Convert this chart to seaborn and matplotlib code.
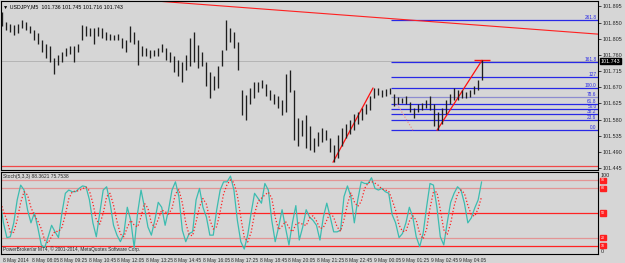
import numpy as np
import pandas as pd
import matplotlib
matplotlib.use("Agg")
import matplotlib.pyplot as plt
import matplotlib.transforms as mtrans
import seaborn as sns

# USDJPY M5 - price bars (one bar every ~10 min)
high = [101.880, 101.852, 101.846, 101.843, 101.846, 101.857, 101.852, 101.841, 101.829, 101.821,
        101.802, 101.790, 101.785, 101.751, 101.760, 101.768, 101.779, 101.785, 101.785, 101.790,
        101.843, 101.841, 101.835, 101.835, 101.838, 101.835, 101.824, 101.818, 101.815, 101.818,
        101.807, 101.802, 101.841, 101.824, 101.802, 101.785, 101.779, 101.774, 101.774, 101.779,
        101.790, 101.779, 101.768, 101.757, 101.746, 101.740, 101.760, 101.807, 101.824, 101.788,
        101.768, 101.740, 101.712, 101.701, 101.729, 101.774, 101.857, 101.835, 101.824, 101.796,
        101.662, 101.648, 101.668, 101.684, 101.684, 101.690, 101.679, 101.662, 101.651, 101.645,
        101.634, 101.707, 101.718, 101.662, 101.584, 101.578, 101.592, 101.562, 101.528, 101.545,
        101.556, 101.550, 101.528, 101.509, 101.536, 101.556, 101.567, 101.578, 101.595, 101.601,
        101.612, 101.623, 101.645, 101.668, 101.668, 101.662, 101.665, 101.668, 101.651, 101.642,
        101.640, 101.645, 101.628, 101.612, 101.623, 101.626, 101.634, 101.645, 101.623, 101.601,
        101.612, 101.634, 101.651, 101.668, 101.662, 101.662, 101.656, 101.662, 101.673, 101.690,
        101.745]
low = [101.841, 101.829, 101.824, 101.815, 101.821, 101.835, 101.829, 101.821, 101.802, 101.790,
       101.768, 101.751, 101.740, 101.707, 101.732, 101.740, 101.757, 101.763, 101.740, 101.768,
       101.802, 101.813, 101.813, 101.790, 101.813, 101.807, 101.802, 101.802, 101.802, 101.802,
       101.779, 101.768, 101.796, 101.790, 101.732, 101.757, 101.757, 101.751, 101.757, 101.757,
       101.768, 101.746, 101.740, 101.712, 101.701, 101.684, 101.718, 101.729, 101.740, 101.723,
       101.729, 101.673, 101.640, 101.662, 101.668, 101.729, 101.774, 101.796, 101.779, 101.718,
       101.592, 101.578, 101.623, 101.640, 101.656, 101.668, 101.645, 101.634, 101.623, 101.612,
       101.592, 101.601, 101.656, 101.523, 101.506, 101.534, 101.500, 101.495, 101.489, 101.506,
       101.517, 101.523, 101.489, 101.461, 101.472, 101.506, 101.528, 101.539, 101.550, 101.567,
       101.578, 101.595, 101.606, 101.640, 101.648, 101.642, 101.645, 101.651, 101.617, 101.623,
       101.626, 101.623, 101.601, 101.584, 101.601, 101.606, 101.612, 101.606, 101.562, 101.550,
       101.567, 101.595, 101.623, 101.634, 101.634, 101.640, 101.640, 101.642, 101.651, 101.662,
       101.690]

# Stochastic %K (5,3,3)
stoch_k = [66, 38, 20, 21, 38, 66, 84, 78, 54, 38, 50, 32, 11, 8, 21, 35, 27, 20, 50, 74,
           78, 76, 76, 80, 83, 82, 66, 38, 21, 50, 78, 82, 62, 35, 23, 15, 25, 57, 41, 8,
           50, 78, 57, 33, 23, 41, 63, 57, 35, 54, 78, 88, 70, 29, 15, 25, 27, 66, 80, 57,
           45, 23, 23, 54, 78, 88, 88, 95, 78, 41, 15, 6, 23, 50, 74, 68, 62, 86, 78, 41,
           15, 33, 54, 32, 11, 38, 59, 17, 33, 54, 45, 41, 35, 17, 45, 62, 45, 27, 27, 29,
           70, 83, 70, 38, 66, 88, 86, 86, 93, 80, 78, 80, 76, 74, 48, 38, 20, 25, 38, 57,
           45, 21, 9, 25, 57, 86, 84, 57, 21, 11, 38, 63, 74, 82, 78, 62, 38, 44, 56, 66, 88]
stoch_levels = [90, 80, 50, 20, 10]

time_labels = ["8 May 2014", "8 May 08:05", "8 May 09:25", "8 May 10:45", "8 May 12:05",
               "8 May 13:25", "8 May 14:45", "8 May 16:05", "8 May 17:25", "8 May 18:45",
               "8 May 20:05", "8 May 21:25", "8 May 22:45", "9 May 00:05", "9 May 01:25",
               "9 May 02:45", "9 May 04:05"]
price_ticks = [101.895, 101.850, 101.805, 101.760, 101.715, 101.670,
               101.625, 101.580, 101.535, 101.490, 101.445]

# fibonacci retracement anchors and levels
fib_low, fib_high = 101.550, 101.667
fib_ratios = [2.618, 1.618, 1.27, 1.0, 0.786, 0.618, 0.5, 0.382, 0.236, 0.0]
fib_names = ["261.8", "161.8", "127", "100.0", "78.6", "61.8", "50.0", "38.2", "23.6", "0.0"]

# drawn objects (bar index, price)
trend_long_x, trend_long_y = [40, 149], [101.909, 101.818]
trend_a_x, trend_a_y = [82.75, 92.75], [101.461, 101.668]
trend_b_x, trend_b_y = [108.75, 120], [101.550, 101.745]
dotted_x, dotted_y = [98.75, 102.75], [101.623, 101.550]
support = 101.450
last_price = 101.743

bg = "#d6d6d6"
sns.set_style("white")
plt.rcParams["font.family"] = ["Liberation Sans", "DejaVu Sans"]

fig = plt.figure(figsize=(6.25, 2.63), dpi=100, facecolor=bg)
ax1 = fig.add_axes([1 / 625, 1 - 170 / 263, 597 / 625, 169 / 263], facecolor=bg)
ax2 = fig.add_axes([1 / 625, 1 - 254 / 263, 597 / 625, 82 / 263], facecolor=bg)

xs = np.arange(len(high))
xlim = (-0.25, 149)

# price panel
ax1.axhline(last_price, color="#b4b4b4", lw=0.7, zorder=1)
ax1.axhline(support, color="#f04848", lw=0.9, zorder=1)
ax1.vlines(xs, low, high, color="#1e1e1e", lw=0.95, zorder=3)

for r, name in zip(fib_ratios, fib_names):
    lvl = fib_low + r * (fib_high - fib_low)
    col = "#8c8cd0" if name == "78.6" else "#2828e6"
    ax1.hlines(lvl, 97.25, xlim[1], color=col, lw=0.9, zorder=2)
    ax1.text(148.6, lvl + 0.001, name, ha="right", va="bottom", color="#2828e6", fontsize=3.4)

sns.lineplot(x=trend_long_x, y=trend_long_y, ax=ax1, color="#ff2020", lw=0.8)
sns.lineplot(x=trend_a_x, y=trend_a_y, ax=ax1, color="#ff1010", lw=0.9)
sns.lineplot(x=trend_b_x, y=trend_b_y, ax=ax1, color="#ff1010", lw=0.9)
ax1.hlines(trend_b_y[1], 118, 122, color="#ff1010", lw=1.0)
ax1.plot(dotted_x, dotted_y, color="#f08080", lw=0.8, ls=":")

ax1.set_xlim(*xlim)
ax1.set_ylim(101.4394, 101.9103)
ax1.yaxis.tick_right()
ax1.set_yticks(price_ticks)
ax1.set_yticklabels([f"{t:.3f}" for t in price_ticks])
ax1.tick_params(axis="y", direction="out", length=2, width=0.6, labelsize=3.9, pad=1.2, right=True)
ax1.set_xticks([])
for s in ax1.spines.values():
    s.set_color("black")
    s.set_linewidth(0.8)

trans1 = mtrans.blended_transform_factory(ax1.transAxes, ax1.transData)
ax1.text(1.005, last_price, f"{last_price:.3f}", transform=trans1, ha="left", va="center",
         fontsize=3.9, color="white", bbox=dict(fc="black", ec="black", pad=0.5), zorder=5)
ax1.text(0.004, 0.98, "\u25bc USDJPY,M5  101.736 101.745 101.716 101.743", transform=ax1.transAxes,
         fontsize=3.8, va="top", ha="left", color="black")

# stochastic panel
for lvl in stoch_levels:
    col = "#ff2424" if lvl in (50, 10) else "#e39494"
    ax2.axhline(lvl, color=col, lw=0.9, zorder=1)

stoch_x = np.linspace(-0.5, 119.9, len(stoch_k))
stoch_d = pd.Series(stoch_k).rolling(3, min_periods=1).mean()
sns.lineplot(x=stoch_x, y=stoch_k, ax=ax2, color="#3cbcb0", lw=0.9)
sns.lineplot(x=stoch_x, y=stoch_d.values, ax=ax2, color="#ff2020", lw=0.9, linestyle=":")

ax2.set_xlim(*xlim)
ax2.set_ylim(0, 100)
ax2.set_yticks([])
tick_pos = (1 + 28.5 * np.arange(len(time_labels))) / 4
ax2.set_xticks(tick_pos)
ax2.set_xticklabels(time_labels, ha="left")
ax2.tick_params(axis="x", direction="out", length=2, width=0.6, labelsize=3.5, pad=1)
for s in ax2.spines.values():
    s.set_color("black")
    s.set_linewidth(0.8)

trans2 = mtrans.blended_transform_factory(ax2.transAxes, ax2.transData)
ax2.text(1.005, 96, "100", transform=trans2, fontsize=3.9, ha="left", va="center")
ax2.text(1.005, 3, "0", transform=trans2, fontsize=3.9, ha="left", va="center")
for lvl in stoch_levels:
    ax2.text(1.005, lvl, str(lvl), transform=trans2, fontsize=2.6, ha="left", va="center",
             color="white", bbox=dict(fc="#ff2020", ec="#ff2020", pad=0.4))
ax2.text(0.004, 0.97, "Stoch(5,3,3) 88.3621 75.7538", transform=ax2.transAxes,
         fontsize=3.6, va="top", ha="left")
ax2.text(0.004, 0.03, "PowerBroker/ar MT4, \u00a9 2001-2014, MetaQuotes Software Corp.",
         transform=ax2.transAxes, fontsize=3.4, va="bottom", ha="left")

fig.savefig("out.png", dpi=100, facecolor=bg)
